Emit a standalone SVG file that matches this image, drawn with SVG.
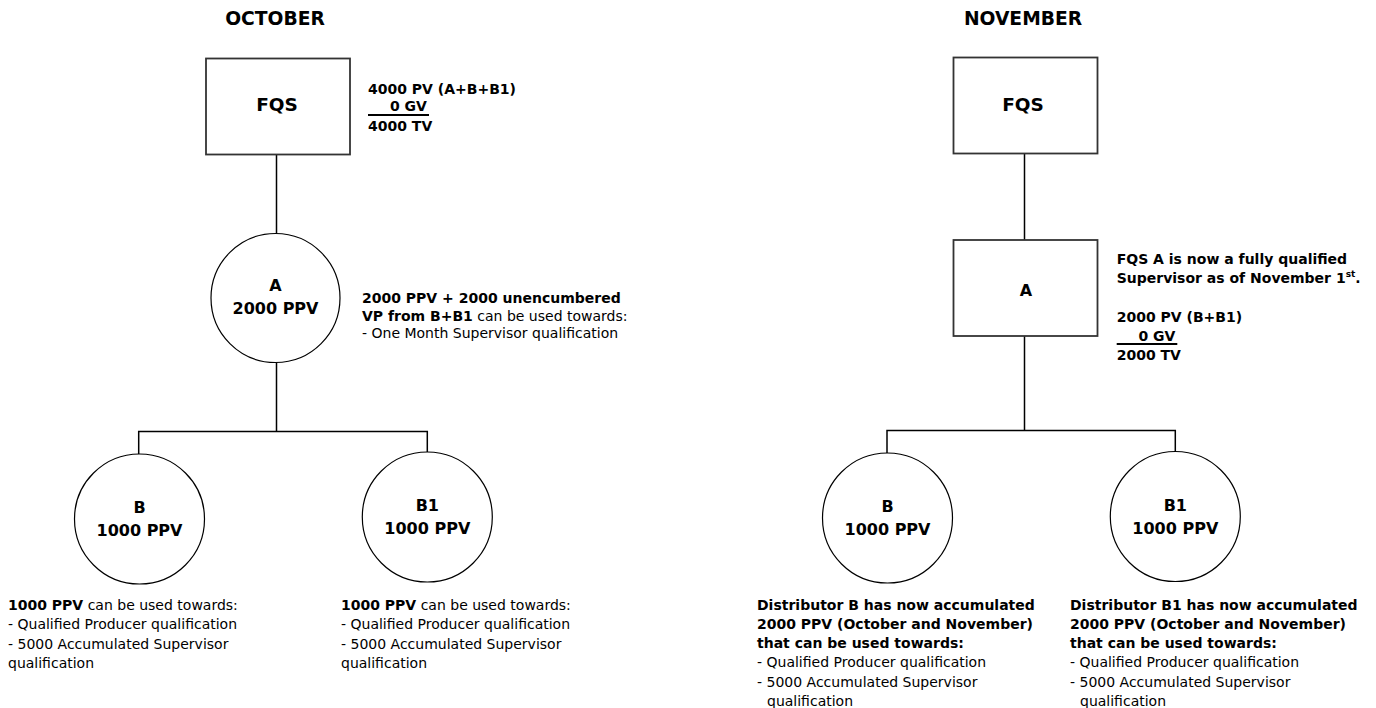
<svg xmlns="http://www.w3.org/2000/svg" width="1376" height="708" viewBox="0 0 1376 708">
<style>
text{font-family:"DejaVu Sans","Verdana",sans-serif;fill:#000}
.hdr{font-size:18.7px;font-weight:bold;text-anchor:middle}
.big{font-size:18.5px;font-weight:bold;text-anchor:middle}
.lbl{font-size:16px;font-weight:bold;text-anchor:middle}
.ann{font-size:14px}
.b{font-weight:bold}
.box{fill:#fff;stroke:#333;stroke-width:1.8}
.node{fill:#fff;stroke:#000;stroke-width:1.2}
.conn{fill:none;stroke:#000;stroke-width:1.5}
.ul{stroke:#000;stroke-width:2}
</style>
<rect width="1376" height="708" fill="#fff"/>

<g id="connectors">
<path class="conn" d="M276.5 154.5V233.5M276.5 362.5V431.5M138.7 454V431.5H427.3V452"/>
<path class="conn" d="M1024.5 153.5V240M1024.5 336V430.5M887 453V430.5H1175.3V451.5"/>
</g>

<g id="header-october"><text class="hdr" x="275" y="25">OCTOBER</text></g>
<g id="header-november"><text class="hdr" x="1023" y="25">NOVEMBER</text></g>

<!-- October -->
<g id="oct-fqs">
<rect class="box" x="206" y="58.5" width="144" height="96"/>
<text class="big" x="277" y="111">FQS</text>
</g>
<g id="oct-fqs-note" class="ann">
<text class="ann b" x="368" y="93.5">4000 PV (A+B+B1)</text>
<text class="ann b" x="390" y="111">0 GV</text>
<line class="ul" x1="368" y1="115" x2="429" y2="115"/>
<text class="ann b" x="368" y="130.5">4000 TV</text>
</g>
<g id="oct-a">
<circle class="node" cx="275.5" cy="298" r="64.5"/>
<text class="lbl" x="275.5" y="291">A</text>
<text class="lbl" x="275.5" y="313.5">2000 PPV</text>
</g>
<g id="oct-a-note">
<text class="ann" x="362" y="303"><tspan class="b">2000 PPV + 2000 unencumbered</tspan></text>
<text class="ann" x="362" y="320.7"><tspan class="b">VP from B+B1</tspan> can be used towards:</text>
<text class="ann" x="362" y="338.3">- One Month Supervisor qualification</text>
</g>
<g id="oct-b">
<circle class="node" cx="139.5" cy="519" r="65"/>
<text class="lbl" x="139.5" y="512.5">B</text>
<text class="lbl" x="139.5" y="535.5">1000 PPV</text>
</g>
<g id="oct-b-note">
<text class="ann" x="8" y="610"><tspan class="b">1000 PPV</tspan> can be used towards:</text>
<text class="ann" x="8" y="629.3">- Qualified Producer qualification</text>
<text class="ann" x="8" y="648.6">- 5000 Accumulated Supervisor</text>
<text class="ann" x="8" y="668">qualification</text>
</g>
<g id="oct-b1">
<circle class="node" cx="427.3" cy="517" r="65"/>
<text class="lbl" x="427.3" y="511">B1</text>
<text class="lbl" x="427.3" y="534">1000 PPV</text>
</g>
<g id="oct-b1-note">
<text class="ann" x="341" y="610"><tspan class="b">1000 PPV</tspan> can be used towards:</text>
<text class="ann" x="341" y="629.3">- Qualified Producer qualification</text>
<text class="ann" x="341" y="648.6">- 5000 Accumulated Supervisor</text>
<text class="ann" x="341" y="668">qualification</text>
</g>

<!-- November -->
<g id="nov-fqs">
<rect class="box" x="953.5" y="57.5" width="144" height="96"/>
<text class="big" x="1023" y="110.5">FQS</text>
</g>
<g id="nov-a">
<rect class="box" x="953.5" y="240" width="144" height="96"/>
<text class="lbl" x="1026" y="296">A</text>
</g>
<g id="nov-a-note">
<text class="ann b" x="1116.7" y="263.5">FQS A is now a fully qualified</text>
<text class="ann b" x="1116.7" y="283.3">Supervisor as of November 1<tspan font-size="9" dy="-6">st</tspan><tspan dy="6">.</tspan></text>
<text class="ann b" x="1116.7" y="322">2000 PV (B+B1)</text>
<text class="ann b" x="1138.5" y="340.5">0 GV</text>
<line class="ul" x1="1116.7" y1="344" x2="1177.3" y2="344"/>
<text class="ann b" x="1116.7" y="360">2000 TV</text>
</g>
<g id="nov-b">
<circle class="node" cx="887.5" cy="518" r="65"/>
<text class="lbl" x="887.5" y="511.5">B</text>
<text class="lbl" x="887.5" y="534.5">1000 PPV</text>
</g>
<g id="nov-b-note">
<text class="ann b" x="757" y="609.5">Distributor B has now accumulated</text>
<text class="ann b" x="757" y="628.8">2000 PPV (October and November)</text>
<text class="ann b" x="757" y="648.1">that can be used towards:</text>
<text class="ann" x="757" y="667.4">- Qualified Producer qualification</text>
<text class="ann" x="757" y="686.7">- 5000 Accumulated Supervisor</text>
<text class="ann" x="767" y="706">qualification</text>
</g>
<g id="nov-b1">
<circle class="node" cx="1175.3" cy="516.5" r="65"/>
<text class="lbl" x="1175.3" y="510.5">B1</text>
<text class="lbl" x="1175.3" y="533.5">1000 PPV</text>
</g>
<g id="nov-b1-note">
<text class="ann b" x="1070" y="609.5">Distributor B1 has now accumulated</text>
<text class="ann b" x="1070" y="628.8">2000 PPV (October and November)</text>
<text class="ann b" x="1070" y="648.1">that can be used towards:</text>
<text class="ann" x="1070" y="667.4">- Qualified Producer qualification</text>
<text class="ann" x="1070" y="686.7">- 5000 Accumulated Supervisor</text>
<text class="ann" x="1080" y="706">qualification</text>
</g>
</svg>
